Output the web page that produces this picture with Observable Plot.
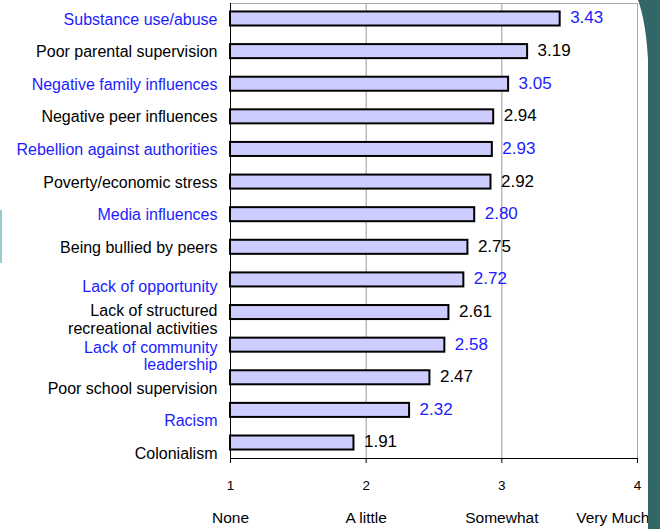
<!DOCTYPE html>
<html>
<head>
<meta charset="utf-8">
<script src="https://cdn.jsdelivr.net/npm/d3@7"></script>
<script src="https://cdn.jsdelivr.net/npm/@observablehq/plot@0.6"></script>
<style>
  html, body { margin: 0; padding: 0; background: #fff; overflow: hidden; }
  #wrap { position: relative; width: 660px; height: 529px; }
  #deco-left { position: absolute; left: 0; top: 210px; width: 2px; height: 53px; background: #99cccc; }
  #deco-right { position: absolute; left: 0; top: 0; pointer-events: none; }
</style>
</head>
<body>
<div id="wrap">
  <div id="chart"></div>
  <div id="deco-left"></div>
  <svg id="deco-right" width="660" height="529"><path d="M638,0 Q646,22 648,60 L648,529 L660,529 L660,0 Z" fill="#336666"/></svg>
</div>
<script>
const categories = [
  "Substance use/abuse",
  "Poor parental supervision",
  "Negative family influences",
  "Negative peer influences",
  "Rebellion against authorities",
  "Poverty/economic stress",
  "Media influences",
  "Being bullied by peers",
  "Lack of opportunity",
  "Lack of structured\nrecreational activities",
  "Lack of community\nleadership",
  "Poor school supervision",
  "Racism",
  "Colonialism"
];
const values = [3.43, 3.19, 3.05, 2.94, 2.93, 2.92, 2.80, 2.75, 2.72, 2.61, 2.58, 2.47, 2.32, 1.91];
const scaleTicks = [1, 2, 3, 4];
const scaleLabels = ["None", "A little", "Somewhat", "Very Much"];
const baseline = 1;

const BLUE = "#1c1cff";
const BLACK = "#000000";
const data = categories.map((c, i) => ({cat: c, value: values[i], i, color: i % 2 === 0 ? BLUE : BLACK}));
const groupA = data.filter(d => d.i < 8);
const groupB = data.filter(d => d.i >= 8 && d.i < 10);
const groupC = data.filter(d => d.i >= 10);
const anchors = scaleTicks.map((t, i) => ({x: t, label: scaleLabels[i]}));

const catText = (rows, dy) => Plot.text(rows, {
  y: "cat", frameAnchor: "left", text: "cat", fill: "color",
  textAnchor: "end", dx: -13, dy, fontSize: 16, lineHeight: 1.08
});

const chart = Plot.plot({
  width: 660,
  height: 529,
  marginLeft: 230,
  marginRight: 23,
  marginTop: 3,
  marginBottom: 71,
  style: {fontFamily: "'Liberation Sans', Arial, sans-serif", background: "#fff"},
  x: {domain: [1, 4], ticks: scaleTicks},
  y: {domain: categories, paddingInner: 0.57, paddingOuter: 0.26, round: false, axis: null},
  marks: [
    Plot.frame({stroke: "#aaaaaa"}),
    Plot.gridX(scaleTicks.slice(1, 3), {stroke: "#999999", strokeOpacity: 1}),
    Plot.frame({anchor: "bottom", stroke: BLACK}),
    Plot.frame({anchor: "left", stroke: BLACK}),
    Plot.axisX({ticks: scaleTicks, tickSize: 5, tickPadding: 17, fontSize: 13.5, label: null, tickFormat: d => String(d)}),
    Plot.barX(data, {x1: baseline, x2: "value", y: "cat", fill: "#ccccff", stroke: BLACK, strokeWidth: 2}),
    Plot.text(data, {x: "value", y: "cat", text: d => d.value.toFixed(2), fill: "color", textAnchor: "start", dx: 10, dy: -1, fontSize: 17}),
    catText(groupA, 0),
    catText(groupB, 7),
    catText(groupC, 10.5),
    Plot.text(anchors.slice(0, 3), {x: "x", frameAnchor: "bottom", text: "label", dy: 64, fontSize: 15.5, fill: BLACK}),
    Plot.text(anchors.slice(3), {x: "x", frameAnchor: "bottom", text: "label", dy: 64, dx: 12, textAnchor: "end", fontSize: 15.5, fill: BLACK})
  ]
});
document.getElementById("chart").appendChild(chart);
</script>
</body>
</html>
